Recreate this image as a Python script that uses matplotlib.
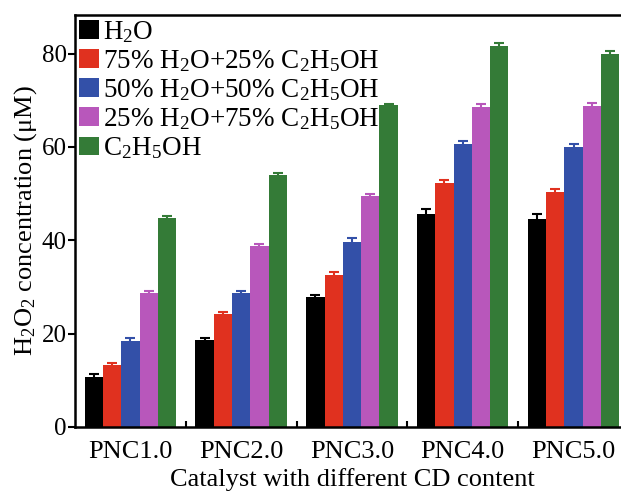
import numpy as np
import matplotlib
matplotlib.use('Agg')
import matplotlib.pyplot as plt
from matplotlib.ticker import MultipleLocator, FixedLocator

plt.rcParams['font.family'] = 'Liberation Serif'
plt.rcParams['mathtext.fontset'] = 'custom'
plt.rcParams['mathtext.rm'] = 'Liberation Serif'
plt.rcParams['mathtext.it'] = 'Liberation Serif:italic'

catalysts = ['PNC1.0', 'PNC2.0', 'PNC3.0', 'PNC4.0', 'PNC5.0']
series_names = [r'H$_2$O',
                r'75% H$_2$O+25% C$_2$H$_5$OH',
                r'50% H$_2$O+50% C$_2$H$_5$OH',
                r'25% H$_2$O+75% C$_2$H$_5$OH',
                r'C$_2$H$_5$OH']
colors = ['#000000', '#e0311f', '#3350a8', '#b857bb', '#347b37']

# H2O2 concentration (uM) for each solvent mix
h2o = [10.8, 18.6, 27.8, 45.6, 44.5]
mix75 = [13.2, 24.3, 32.6, 52.2, 50.3]
mix50 = [18.5, 28.7, 39.6, 60.6, 60.0]
mix25 = [28.6, 38.8, 49.5, 68.5, 68.7]
etoh = [44.8, 54.0, 69.0, 81.6, 79.9]

err_h2o = [0.5, 0.5, 0.5, 1.0, 1.2]
err_mix75 = [0.4, 0.4, 0.5, 0.7, 0.7]
err_mix50 = [0.5, 0.5, 0.8, 0.6, 0.7]
err_mix25 = [0.6, 0.5, 0.5, 0.6, 0.7]
err_etoh = [0.4, 0.4, 0.3, 0.7, 0.7]

values = [h2o, mix75, mix50, mix25, etoh]
errors = [err_h2o, err_mix75, err_mix50, err_mix25, err_etoh]

fig = plt.figure(figsize=(6.21, 4.97), dpi=100)
ax = fig.add_axes([0.1208, 0.141, 0.892, 0.829])

x = np.arange(len(catalysts))
w = 0.165
for i in range(5):
    pos = x + (i - 2) * w
    ax.bar(pos, values[i], width=w, color=colors[i], label=series_names[i],
           yerr=errors[i], error_kw=dict(ecolor=colors[i], elinewidth=1.5,
                                         capsize=3.4, capthick=1.5))

ax.set_xlim(-0.5, 4.5)
ax.set_ylim(0, 88.3)
ax.set_xticks(x)
ax.set_xticklabels(catalysts)
ax.xaxis.set_minor_locator(FixedLocator([0.5, 1.5, 2.5, 3.5]))
ax.yaxis.set_major_locator(MultipleLocator(20))

ax.tick_params(axis='x', which='major', length=0, labelsize=19, pad=10)
ax.tick_params(axis='x', which='minor', direction='in', length=4, width=1.5)
ax.tick_params(axis='y', which='major', direction='out', length=5, width=1.5,
               labelsize=18, pad=1)
for s in ax.spines.values():
    s.set_linewidth(1.8)

ax.set_xlabel('Catalyst with different CD content', fontsize=19, labelpad=4)
ax.set_ylabel(r'H$_2$O$_2$ concentration ($\mathrm{\mu}$M)', fontsize=19, labelpad=2)

ax.legend(loc='upper left', fontsize=19.5, frameon=False, handlelength=0.72,
          handleheight=0.7, handletextpad=0.15, labelspacing=0.12,
          borderaxespad=0.1, borderpad=0.05)

fig.savefig('out.png', dpi=100)
